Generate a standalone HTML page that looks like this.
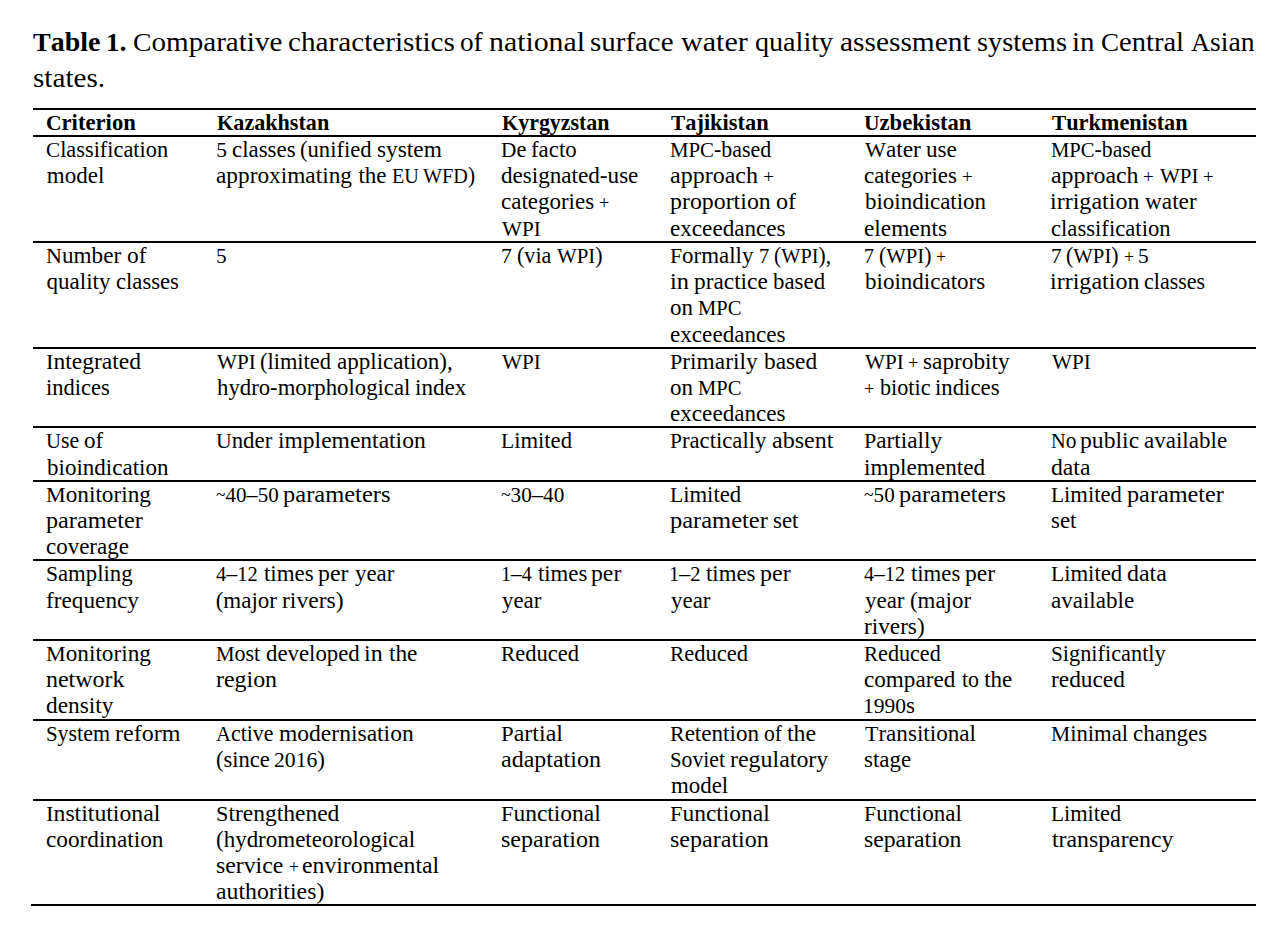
<!DOCTYPE html>
<html><head><meta charset="utf-8"><style>
html,body{margin:0;padding:0;background:#fff;}
body{width:1288px;height:946px;position:relative;overflow:hidden;font-family:"Liberation Serif",serif;color:#000;}
.t{position:absolute;white-space:pre;line-height:1;transform-origin:0 0;font-size:23px;}
.b{font-weight:bold;}
.r{position:absolute;background:#000;height:2px;}
.p{font-size:0.783em;vertical-align:0.011em}
.tl{font-size:0.783em;vertical-align:0.043em}
.dg{font-size:0.935em}
.cp{font-size:0.95em}
</style></head><body>
<div class="r" style="left:33px;top:108px;width:1223px"></div>
<div class="r" style="left:33px;top:135px;width:1223px"></div>
<div class="r" style="left:33px;top:241px;width:1223px"></div>
<div class="r" style="left:33px;top:347px;width:1223px"></div>
<div class="r" style="left:33px;top:426px;width:1223px"></div>
<div class="r" style="left:33px;top:480px;width:1223px"></div>
<div class="r" style="left:33px;top:559px;width:1223px"></div>
<div class="r" style="left:33px;top:639px;width:1223px"></div>
<div class="r" style="left:33px;top:719px;width:1223px"></div>
<div class="r" style="left:33px;top:799px;width:1223px"></div>
<div class="r" style="left:31px;top:904px;width:1225px"></div>
<div class="t b" style="left:45.81px;top:111px;transform:scaleX(0.9856)"><span class="cp">C</span>riterion</div>
<div class="t b" style="left:216.80px;top:111px;transform:scaleX(0.9615)"><span class="cp">K</span>azakhstan</div>
<div class="t b" style="left:501.80px;top:111px;transform:scaleX(0.9531)"><span class="cp">K</span>yrgyzstan</div>
<div class="t b" style="left:670.80px;top:111px;transform:scaleX(0.9750)"><span class="cp">T</span>ajikistan</div>
<div class="t b" style="left:863.81px;top:111px;transform:scaleX(0.9852)"><span class="cp">U</span>zbekistan</div>
<div class="t b" style="left:1051.80px;top:111px;transform:scaleX(0.9700)"><span class="cp">T</span>urkmenistan</div>
<div class="t" style="left:45.83px;top:138px;transform:scaleX(0.9710)"><span class="cp">C</span>lassification</div>
<div class="t" style="left:46.80px;top:164px;transform:scaleX(1.0000)">model</div>
<div class="t" style="left:216.30px;top:138px;transform:scaleX(1.0000)"><span class="dg">5</span></div>
<div class="t" style="left:231.60px;top:138px;transform:scaleX(0.9952)">classes</div>
<div class="t" style="left:299.62px;top:138px;transform:scaleX(0.9833)">(unified</div>
<div class="t" style="left:376.69px;top:138px;transform:scaleX(1.0145)">system</div>
<div class="t" style="left:216.29px;top:164px;transform:scaleX(1.0135)">approximating</div>
<div class="t" style="left:358.40px;top:164px;transform:scaleX(1.0000)">the</div>
<div class="t" style="left:391.77px;top:164px;transform:scaleX(0.9254)"><span class="cp">EU</span></div>
<div class="t" style="left:423.30px;top:164px;transform:scaleX(0.9254)"><span class="cp">WFD</span>)</div>
<div class="t" style="left:501.02px;top:138px;transform:scaleX(0.9750)"><span class="cp">D</span>e</div>
<div class="t" style="left:530.71px;top:138px;transform:scaleX(0.9932)">facto</div>
<div class="t" style="left:500.79px;top:164px;transform:scaleX(1.0052)">designated-use</div>
<div class="t" style="left:501.20px;top:190px;transform:scaleX(0.9989)">categories</div>
<div class="t" style="left:599.39px;top:190px;transform:scaleX(1.0125)"><span class="p">+</span></div>
<div class="t" style="left:501.80px;top:217px;transform:scaleX(0.9692)"><span class="cp">WPI</span></div>
<div class="t" style="left:669.85px;top:138px;transform:scaleX(0.9533)"><span class="cp">MPC</span>-based</div>
<div class="t" style="left:669.86px;top:164px;transform:scaleX(1.0446)">approach</div>
<div class="t" style="left:762.81px;top:164px;transform:scaleX(1.0929)"><span class="p">+</span></div>
<div class="t" style="left:669.86px;top:190px;transform:scaleX(1.0375)">proportion</div>
<div class="t" style="left:775.75px;top:190px;transform:scaleX(1.0500)">of</div>
<div class="t" style="left:669.79px;top:217px;transform:scaleX(1.0062)">exceedances</div>
<div class="t" style="left:865.00px;top:138px;transform:scaleX(1.0145)"><span class="cp">W</span>ater</div>
<div class="t" style="left:926.09px;top:138px;transform:scaleX(1.0069)">use</div>
<div class="t" style="left:864.00px;top:164px;transform:scaleX(0.9957)">categories</div>
<div class="t" style="left:961.85px;top:164px;transform:scaleX(1.0480)"><span class="p">+</span></div>
<div class="t" style="left:864.80px;top:190px;transform:scaleX(0.9975)">bioindication</div>
<div class="t" style="left:863.78px;top:217px;transform:scaleX(1.0150)">elements</div>
<div class="t" style="left:1050.86px;top:138px;transform:scaleX(0.9448)"><span class="cp">MPC</span>-based</div>
<div class="t" style="left:1050.56px;top:164px;transform:scaleX(1.0386)">approach</div>
<div class="t" style="left:1143.05px;top:164px;transform:scaleX(1.0526)"><span class="p">+</span></div>
<div class="t" style="left:1159.80px;top:164px;transform:scaleX(0.9615)"><span class="cp">WPI</span></div>
<div class="t" style="left:1202.55px;top:164px;transform:scaleX(1.0500)"><span class="p">+</span></div>
<div class="t" style="left:1050.15px;top:190px;transform:scaleX(1.0452)">irrigation</div>
<div class="t" style="left:1145.30px;top:190px;transform:scaleX(1.0118)">water</div>
<div class="t" style="left:1050.81px;top:217px;transform:scaleX(0.9858)">classification</div>
<div class="t" style="left:45.99px;top:244px;transform:scaleX(1.0081)"><span class="cp">N</span>umber</div>
<div class="t" style="left:126.88px;top:244px;transform:scaleX(1.0167)">of</div>
<div class="t" style="left:46.60px;top:270px;transform:scaleX(1.0000)">quality</div>
<div class="t" style="left:115.91px;top:270px;transform:scaleX(0.9855)">classes</div>
<div class="t" style="left:215.81px;top:244px;transform:scaleX(0.9889)"><span class="dg">5</span></div>
<div class="t" style="left:501.20px;top:244px;transform:scaleX(1.0036)"><span class="dg">7</span></div>
<div class="t" style="left:516.74px;top:244px;transform:scaleX(0.9618)">(via</div>
<div class="t" style="left:556.70px;top:244px;transform:scaleX(0.9553)"><span class="cp">WPI</span>)</div>
<div class="t" style="left:669.90px;top:244px;transform:scaleX(0.9964)"><span class="cp">F</span>ormally</div>
<div class="t" style="left:758.94px;top:244px;transform:scaleX(0.9556)"><span class="dg">7</span></div>
<div class="t" style="left:773.87px;top:244px;transform:scaleX(0.9339)">(<span class="cp">WPI</span>),</div>
<div class="t" style="left:669.54px;top:270px;transform:scaleX(1.0596)">in</div>
<div class="t" style="left:693.99px;top:270px;transform:scaleX(1.0141)">practice</div>
<div class="t" style="left:773.30px;top:270px;transform:scaleX(0.9942)">based</div>
<div class="t" style="left:669.90px;top:296px;transform:scaleX(1.0000)">on</div>
<div class="t" style="left:698.26px;top:296px;transform:scaleX(0.9386)"><span class="cp">MPC</span></div>
<div class="t" style="left:669.79px;top:323px;transform:scaleX(1.0062)">exceedances</div>
<div class="t" style="left:864.08px;top:244px;transform:scaleX(0.9222)"><span class="dg">7</span></div>
<div class="t" style="left:878.65px;top:244px;transform:scaleX(0.9463)">(<span class="cp">WPI</span>)</div>
<div class="t" style="left:936.01px;top:244px;transform:scaleX(0.9853)"><span class="p">+</span></div>
<div class="t" style="left:864.80px;top:270px;transform:scaleX(1.0008)">bioindicators</div>
<div class="t" style="left:1050.61px;top:244px;transform:scaleX(0.9899)"><span class="dg">7</span></div>
<div class="t" style="left:1066.15px;top:244px;transform:scaleX(0.9500)">(<span class="cp">WPI</span>)</div>
<div class="t" style="left:1123.71px;top:244px;transform:scaleX(0.9899)"><span class="p">+</span></div>
<div class="t" style="left:1138.41px;top:244px;transform:scaleX(0.9899)"><span class="dg">5</span></div>
<div class="t" style="left:1050.15px;top:270px;transform:scaleX(1.0452)">irrigation</div>
<div class="t" style="left:1144.34px;top:270px;transform:scaleX(0.9565)">classes</div>
<div class="t" style="left:45.78px;top:350px;transform:scaleX(1.0239)"><span class="cp">I</span>ntegrated</div>
<div class="t" style="left:45.82px;top:376px;transform:scaleX(0.9781)">indices</div>
<div class="t" style="left:217.30px;top:350px;transform:scaleX(0.9692)"><span class="cp">WPI</span></div>
<div class="t" style="left:260.42px;top:350px;transform:scaleX(0.9750)">(limited</div>
<div class="t" style="left:336.90px;top:350px;transform:scaleX(1.0018)">application),</div>
<div class="t" style="left:217.30px;top:376px;transform:scaleX(0.9892)">hydro-morphological</div>
<div class="t" style="left:415.49px;top:376px;transform:scaleX(1.0060)">index</div>
<div class="t" style="left:501.80px;top:350px;transform:scaleX(0.9692)"><span class="cp">WPI</span></div>
<div class="t" style="left:669.88px;top:350px;transform:scaleX(1.0153)"><span class="cp">P</span>rimarily</div>
<div class="t" style="left:763.50px;top:350px;transform:scaleX(1.0135)">based</div>
<div class="t" style="left:669.90px;top:376px;transform:scaleX(1.0000)">on</div>
<div class="t" style="left:698.26px;top:376px;transform:scaleX(0.9386)"><span class="cp">MPC</span></div>
<div class="t" style="left:669.79px;top:402px;transform:scaleX(1.0062)">exceedances</div>
<div class="t" style="left:865.00px;top:350px;transform:scaleX(0.9692)"><span class="cp">WPI</span></div>
<div class="t" style="left:908.07px;top:350px;transform:scaleX(1.0293)"><span class="p">+</span></div>
<div class="t" style="left:922.99px;top:350px;transform:scaleX(1.0131)">saprobity</div>
<div class="t" style="left:864.18px;top:376px;transform:scaleX(1.0241)"><span class="p">+</span></div>
<div class="t" style="left:879.90px;top:376px;transform:scaleX(0.9654)">biotic</div>
<div class="t" style="left:935.41px;top:376px;transform:scaleX(0.9906)">indices</div>
<div class="t" style="left:1051.80px;top:350px;transform:scaleX(0.9692)"><span class="cp">WPI</span></div>
<div class="t" style="left:46.25px;top:429px;transform:scaleX(0.9485)"><span class="cp">U</span>se</div>
<div class="t" style="left:83.80px;top:429px;transform:scaleX(1.0019)">of</div>
<div class="t" style="left:46.80px;top:456px;transform:scaleX(1.0008)">bioindication</div>
<div class="t" style="left:216.31px;top:429px;transform:scaleX(0.9929)"><span class="cp">U</span>nder</div>
<div class="t" style="left:278.18px;top:429px;transform:scaleX(1.0231)">implementation</div>
<div class="t" style="left:500.82px;top:429px;transform:scaleX(0.9845)"><span class="cp">L</span>imited</div>
<div class="t" style="left:669.91px;top:429px;transform:scaleX(0.9866)"><span class="cp">P</span>ractically</div>
<div class="t" style="left:771.86px;top:429px;transform:scaleX(1.0439)">absent</div>
<div class="t" style="left:863.79px;top:429px;transform:scaleX(1.0105)"><span class="cp">P</span>artially</div>
<div class="t" style="left:863.79px;top:456px;transform:scaleX(1.0092)">implemented</div>
<div class="t" style="left:1050.67px;top:429px;transform:scaleX(0.9313)"><span class="cp">N</span>o</div>
<div class="t" style="left:1080.07px;top:429px;transform:scaleX(1.0286)">public</div>
<div class="t" style="left:1144.00px;top:429px;transform:scaleX(1.0012)">available</div>
<div class="t" style="left:1050.77px;top:456px;transform:scaleX(1.0297)">data</div>
<div class="t" style="left:45.79px;top:483px;transform:scaleX(1.0118)"><span class="cp">M</span>onitoring</div>
<div class="t" style="left:45.75px;top:509px;transform:scaleX(1.0527)">parameter</div>
<div class="t" style="left:45.80px;top:535px;transform:scaleX(0.9988)">coverage</div>
<div class="t" style="left:215.73px;top:483px;transform:scaleX(0.9746)"><span class="tl">~</span><span class="dg">40</span>–<span class="dg">50</span></div>
<div class="t" style="left:283.33px;top:483px;transform:scaleX(1.0657)">parameters</div>
<div class="t" style="left:500.82px;top:483px;transform:scaleX(0.9841)"><span class="tl">~</span><span class="dg">30</span>–<span class="dg">40</span></div>
<div class="t" style="left:669.81px;top:483px;transform:scaleX(0.9859)"><span class="cp">L</span>imited</div>
<div class="t" style="left:669.54px;top:509px;transform:scaleX(1.0637)">parameter</div>
<div class="t" style="left:772.71px;top:509px;transform:scaleX(0.9917)">set</div>
<div class="t" style="left:863.72px;top:483px;transform:scaleX(0.9821)"><span class="tl">~</span><span class="dg">50</span></div>
<div class="t" style="left:899.34px;top:483px;transform:scaleX(1.0596)">parameters</div>
<div class="t" style="left:1050.62px;top:483px;transform:scaleX(0.9817)"><span class="cp">L</span>imited</div>
<div class="t" style="left:1126.55px;top:483px;transform:scaleX(1.0538)">parameter</div>
<div class="t" style="left:1050.81px;top:509px;transform:scaleX(0.9917)">set</div>
<div class="t" style="left:45.81px;top:562px;transform:scaleX(0.9884)"><span class="cp">S</span>ampling</div>
<div class="t" style="left:45.79px;top:589px;transform:scaleX(1.0110)">frequency</div>
<div class="t" style="left:216.30px;top:562px;transform:scaleX(0.9512)"><span class="dg">4</span>–<span class="dg">12</span></div>
<div class="t" style="left:263.50px;top:562px;transform:scaleX(0.9959)">times</div>
<div class="t" style="left:317.56px;top:562px;transform:scaleX(1.0395)">per</div>
<div class="t" style="left:354.70px;top:562px;transform:scaleX(0.9950)">year</div>
<div class="t" style="left:215.70px;top:589px;transform:scaleX(1.0000)">(major</div>
<div class="t" style="left:281.97px;top:589px;transform:scaleX(1.0259)">rivers)</div>
<div class="t" style="left:500.73px;top:562px;transform:scaleX(0.9336)"><span class="dg">1</span>–<span class="dg">4</span></div>
<div class="t" style="left:537.50px;top:562px;transform:scaleX(0.9878)">times</div>
<div class="t" style="left:591.17px;top:562px;transform:scaleX(1.0319)">per</div>
<div class="t" style="left:501.80px;top:589px;transform:scaleX(0.9950)">year</div>
<div class="t" style="left:669.39px;top:562px;transform:scaleX(0.9533)"><span class="dg">1</span>–<span class="dg">2</span></div>
<div class="t" style="left:706.20px;top:562px;transform:scaleX(0.9918)">times</div>
<div class="t" style="left:760.06px;top:562px;transform:scaleX(1.0423)">per</div>
<div class="t" style="left:670.80px;top:589px;transform:scaleX(0.9975)">year</div>
<div class="t" style="left:864.30px;top:562px;transform:scaleX(0.9372)"><span class="dg">4</span>–<span class="dg">12</span></div>
<div class="t" style="left:910.90px;top:562px;transform:scaleX(0.9878)">times</div>
<div class="t" style="left:964.57px;top:562px;transform:scaleX(1.0273)">per</div>
<div class="t" style="left:864.70px;top:589px;transform:scaleX(0.9975)">year</div>
<div class="t" style="left:909.90px;top:589px;transform:scaleX(0.9950)">(major</div>
<div class="t" style="left:863.79px;top:615px;transform:scaleX(1.0103)">rivers)</div>
<div class="t" style="left:1050.61px;top:562px;transform:scaleX(0.9859)"><span class="cp">L</span>imited</div>
<div class="t" style="left:1126.86px;top:562px;transform:scaleX(1.0378)">data</div>
<div class="t" style="left:1050.80px;top:589px;transform:scaleX(1.0012)">available</div>
<div class="t" style="left:45.79px;top:642px;transform:scaleX(1.0118)"><span class="cp">M</span>onitoring</div>
<div class="t" style="left:45.76px;top:668px;transform:scaleX(1.0419)">network</div>
<div class="t" style="left:45.79px;top:694px;transform:scaleX(1.0138)">density</div>
<div class="t" style="left:216.34px;top:642px;transform:scaleX(0.9556)"><span class="cp">M</span>ost</div>
<div class="t" style="left:265.61px;top:642px;transform:scaleX(0.9914)">developed</div>
<div class="t" style="left:364.06px;top:642px;transform:scaleX(1.0406)">in</div>
<div class="t" style="left:389.20px;top:642px;transform:scaleX(1.0107)">the</div>
<div class="t" style="left:215.76px;top:668px;transform:scaleX(1.0386)">region</div>
<div class="t" style="left:500.82px;top:642px;transform:scaleX(0.9785)"><span class="cp">R</span>educed</div>
<div class="t" style="left:669.82px;top:642px;transform:scaleX(0.9797)"><span class="cp">R</span>educed</div>
<div class="t" style="left:863.84px;top:642px;transform:scaleX(0.9633)"><span class="cp">R</span>educed</div>
<div class="t" style="left:863.99px;top:668px;transform:scaleX(1.0067)">compared</div>
<div class="t" style="left:961.90px;top:668px;transform:scaleX(0.9513)">to</div>
<div class="t" style="left:984.20px;top:668px;transform:scaleX(1.0000)">the</div>
<div class="t" style="left:862.80px;top:694px;transform:scaleX(1.0020)"><span class="dg">1990</span>s</div>
<div class="t" style="left:1050.83px;top:642px;transform:scaleX(0.9709)"><span class="cp">S</span>ignificantly</div>
<div class="t" style="left:1050.78px;top:668px;transform:scaleX(1.0153)">reduced</div>
<div class="t" style="left:46.05px;top:722px;transform:scaleX(0.9545)"><span class="cp">S</span>ystem</div>
<div class="t" style="left:115.26px;top:722px;transform:scaleX(1.0445)">reform</div>
<div class="t" style="left:216.30px;top:722px;transform:scaleX(0.9481)"><span class="cp">A</span>ctive</div>
<div class="t" style="left:278.80px;top:722px;transform:scaleX(1.0237)">modernisation</div>
<div class="t" style="left:215.72px;top:748px;transform:scaleX(0.9811)">(since</div>
<div class="t" style="left:273.99px;top:748px;transform:scaleX(1.0061)"><span class="dg">2016</span>)</div>
<div class="t" style="left:500.76px;top:722px;transform:scaleX(1.0431)"><span class="cp">P</span>artial</div>
<div class="t" style="left:500.76px;top:748px;transform:scaleX(1.0426)">adaptation</div>
<div class="t" style="left:669.90px;top:722px;transform:scaleX(1.0034)"><span class="cp">R</span>etention</div>
<div class="t" style="left:763.56px;top:722px;transform:scaleX(0.9415)">of</div>
<div class="t" style="left:786.60px;top:722px;transform:scaleX(1.0357)">the</div>
<div class="t" style="left:669.95px;top:748px;transform:scaleX(0.9470)"><span class="cp">S</span>oviet</div>
<div class="t" style="left:729.66px;top:748px;transform:scaleX(1.0398)">regulatory</div>
<div class="t" style="left:670.80px;top:774px;transform:scaleX(0.9947)">model</div>
<div class="t" style="left:864.80px;top:722px;transform:scaleX(1.0045)"><span class="cp">T</span>ransitional</div>
<div class="t" style="left:863.80px;top:748px;transform:scaleX(0.9978)">stage</div>
<div class="t" style="left:1050.61px;top:722px;transform:scaleX(0.9857)"><span class="cp">M</span>inimal</div>
<div class="t" style="left:1132.80px;top:722px;transform:scaleX(1.0027)">changes</div>
<div class="t" style="left:45.77px;top:802px;transform:scaleX(1.0321)"><span class="cp">I</span>nstitutional</div>
<div class="t" style="left:45.79px;top:828px;transform:scaleX(1.0104)">coordination</div>
<div class="t" style="left:215.78px;top:802px;transform:scaleX(1.0217)"><span class="cp">S</span>trengthened</div>
<div class="t" style="left:215.80px;top:828px;transform:scaleX(0.9990)">(hydrometeorological</div>
<div class="t" style="left:216.27px;top:854px;transform:scaleX(1.0328)">service</div>
<div class="t" style="left:288.74px;top:854px;transform:scaleX(0.9639)"><span class="p">+</span></div>
<div class="t" style="left:302.27px;top:854px;transform:scaleX(1.0321)">environmental</div>
<div class="t" style="left:215.77px;top:880px;transform:scaleX(1.0340)">authorities)</div>
<div class="t" style="left:500.78px;top:802px;transform:scaleX(1.0208)"><span class="cp">F</span>unctional</div>
<div class="t" style="left:500.75px;top:828px;transform:scaleX(1.0473)">separation</div>
<div class="t" style="left:669.78px;top:802px;transform:scaleX(1.0208)"><span class="cp">F</span>unctional</div>
<div class="t" style="left:669.75px;top:828px;transform:scaleX(1.0452)">separation</div>
<div class="t" style="left:863.80px;top:802px;transform:scaleX(1.0021)"><span class="cp">F</span>unctional</div>
<div class="t" style="left:863.77px;top:828px;transform:scaleX(1.0312)">separation</div>
<div class="t" style="left:1050.83px;top:802px;transform:scaleX(0.9718)"><span class="cp">L</span>imited</div>
<div class="t" style="left:1051.80px;top:828px;transform:scaleX(1.0333)">transparency</div>
<div class="t b" style="left:33.00px;top:28px;font-size:27.5px;transform:scaleX(1.0167)"><span class="cp">T</span>able</div>
<div class="t b" style="left:106.02px;top:28px;font-size:27.5px;transform:scaleX(1.0412)"><span class="dg">1</span>.</div>
<div class="t" style="left:133.24px;top:28px;font-size:27.5px;transform:scaleX(1.0590)"><span class="cp">C</span>omparative</div>
<div class="t" style="left:287.94px;top:28px;font-size:27.5px;transform:scaleX(1.0613)">characteristics</div>
<div class="t" style="left:460.01px;top:28px;font-size:27.5px;transform:scaleX(0.9899)">of</div>
<div class="t" style="left:488.52px;top:28px;font-size:27.5px;transform:scaleX(1.0839)">national</div>
<div class="t" style="left:590.35px;top:28px;font-size:27.5px;transform:scaleX(1.0526)">surface</div>
<div class="t" style="left:681.00px;top:28px;font-size:27.5px;transform:scaleX(1.0941)">water</div>
<div class="t" style="left:754.68px;top:28px;font-size:27.5px;transform:scaleX(1.0224)">quality</div>
<div class="t" style="left:839.83px;top:28px;font-size:27.5px;transform:scaleX(1.0686)">assessment</div>
<div class="t" style="left:976.67px;top:28px;font-size:27.5px;transform:scaleX(1.0329)">systems</div>
<div class="t" style="left:1071.94px;top:28px;font-size:27.5px;transform:scaleX(1.0550)">in</div>
<div class="t" style="left:1100.56px;top:28px;font-size:27.5px;transform:scaleX(1.0367)"><span class="cp">C</span>entral</div>
<div class="t" style="left:1191.00px;top:28px;font-size:27.5px;transform:scaleX(1.0063)"><span class="cp">A</span>sian</div>
<div class="t" style="left:32.84px;top:64px;font-size:27.5px;transform:scaleX(1.0600)">states.</div>
</body></html>
